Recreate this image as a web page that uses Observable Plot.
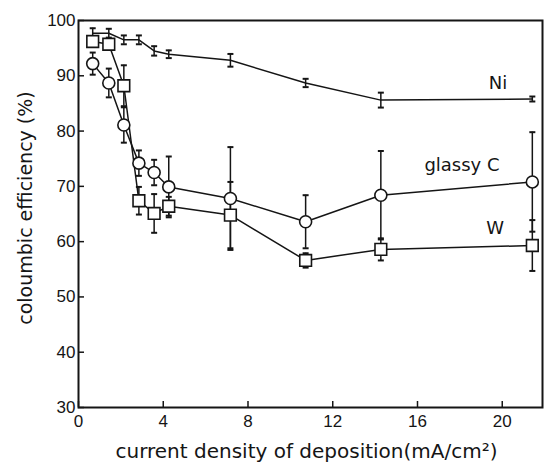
<!DOCTYPE html>
<html><head><meta charset="utf-8">
<script src="https://cdn.jsdelivr.net/npm/d3@7"></script>
<script src="https://cdn.jsdelivr.net/npm/@observablehq/plot@0.6"></script>
<style>body{margin:0;background:#fff}</style>
</head><body><div id="chart"></div>
<script>
// current density of deposition (mA/cm2)
const density = [0.67, 1.43, 2.14, 2.85, 3.57, 4.26, 7.17, 10.72, 14.27, 21.42];
// coloumbic efficiency (%)
const ni     = [97.7, 97.7, 96.5, 96.5, 94.5, 93.9, 92.8, 88.7, 85.6, 85.8];
const niErr  = [0.9, 0.8, 0.8, 0.8, 0.85, 0.7, 1.15, 0.75, 1.35, 0.45];
const glassyC    = [92.2, 88.7, 81.1, 74.2, 72.5, 69.9, 67.8, 63.6, 68.4, 70.8];
const glassyCErr = [2.0, 2.6, 3.2, 2.3, 2.3, 5.5, 9.3, 4.8, 8.0, 9.0];
const w      = [96.2, 95.7, 88.2, 67.4, 65.1, 66.4, 64.8, 56.6, 58.6, 59.3];
const wErr   = [0.6, 0.6, 3.7, 2.5, 3.5, 1.7, 6.0, 1.3, 2.0, 4.6];
const xTicks = [0, 4, 8, 12, 16, 20];
const yTicks = [30, 40, 50, 60, 70, 80, 90, 100];
const seriesLabels = [
  {text: "Ni", x: 19.8, y: 88.7},
  {text: "glassy C", x: 18.1, y: 73.8},
  {text: "W", x: 19.67, y: 62.4}
];

const rows = (series, vals, errs) => density.map((x, i) => ({series, x, y: vals[i], lo: vals[i] - errs[i], hi: vals[i] + errs[i]}));
const niRows = rows("Ni", ni, niErr);
const cRows = rows("glassy C", glassyC, glassyCErr);
const wRows = rows("W", w, wErr);
const all = [...niRows, ...cRows, ...wRows];
const ink = "#151515";
const labelFont = "'DejaVu Sans', sans-serif";
const cap = {draw(ctx) { ctx.moveTo(-3, 0); ctx.lineTo(3, 0); }};

const chart = Plot.plot({
  width: 544,
  height: 468,
  marginLeft: 78,
  marginRight: 2,
  marginTop: 20,
  marginBottom: 61,
  style: {fontFamily: "'Liberation Sans', sans-serif", fontSize: "17px", color: ink, background: "#fff"},
  x: {domain: [0, 21.9]},
  y: {domain: [30, 100]},
  marks: [
    Plot.frame({stroke: ink, strokeWidth: 2}),
    Plot.axisY({ticks: yTicks, tickSize: -6, tickPadding: 9, label: null, stroke: ink, strokeWidth: 1.5}),
    Plot.axisX({ticks: xTicks, tickSize: -6, tickPadding: 13, label: null, stroke: ink, strokeWidth: 1.5}),
    Plot.ruleX(all, {x: "x", y1: "lo", y2: "hi", stroke: ink, strokeWidth: 1.5}),
    Plot.dot(all, {x: "x", y: "lo", symbol: cap, stroke: ink, strokeWidth: 2}),
    Plot.dot(all, {x: "x", y: "hi", symbol: cap, stroke: ink, strokeWidth: 2}),
    Plot.line(all, {x: "x", y: "y", z: "series", stroke: ink, strokeWidth: 1.5}),
    Plot.dot(cRows, {x: "x", y: "y", r: 6, symbol: "circle", fill: "#fff", stroke: ink, strokeWidth: 1.6}),
    Plot.dot(wRows, {x: "x", y: "y", r: 6.6, symbol: "square", fill: "#fff", stroke: ink, strokeWidth: 1.6}),
    Plot.text(seriesLabels, {x: "x", y: "y", text: "text", fontSize: 18, fontFamily: labelFont, fill: ink}),
    Plot.text(["coloumbic efficiency (%)"], {frameAnchor: "left", textAnchor: "middle", lineAnchor: "middle", text: d => d, rotate: -90, dx: -53, dy: -6, fontSize: 19, fontFamily: labelFont, fill: ink}),
    Plot.text(["current density of deposition(mA/cm²)"], {frameAnchor: "bottom", textAnchor: "middle", lineAnchor: "middle", text: d => d, dx: -4, dy: 44, fontSize: 20, fontFamily: labelFont, fill: ink})
  ]
});
document.getElementById("chart").append(chart);
</script>
</body></html>
